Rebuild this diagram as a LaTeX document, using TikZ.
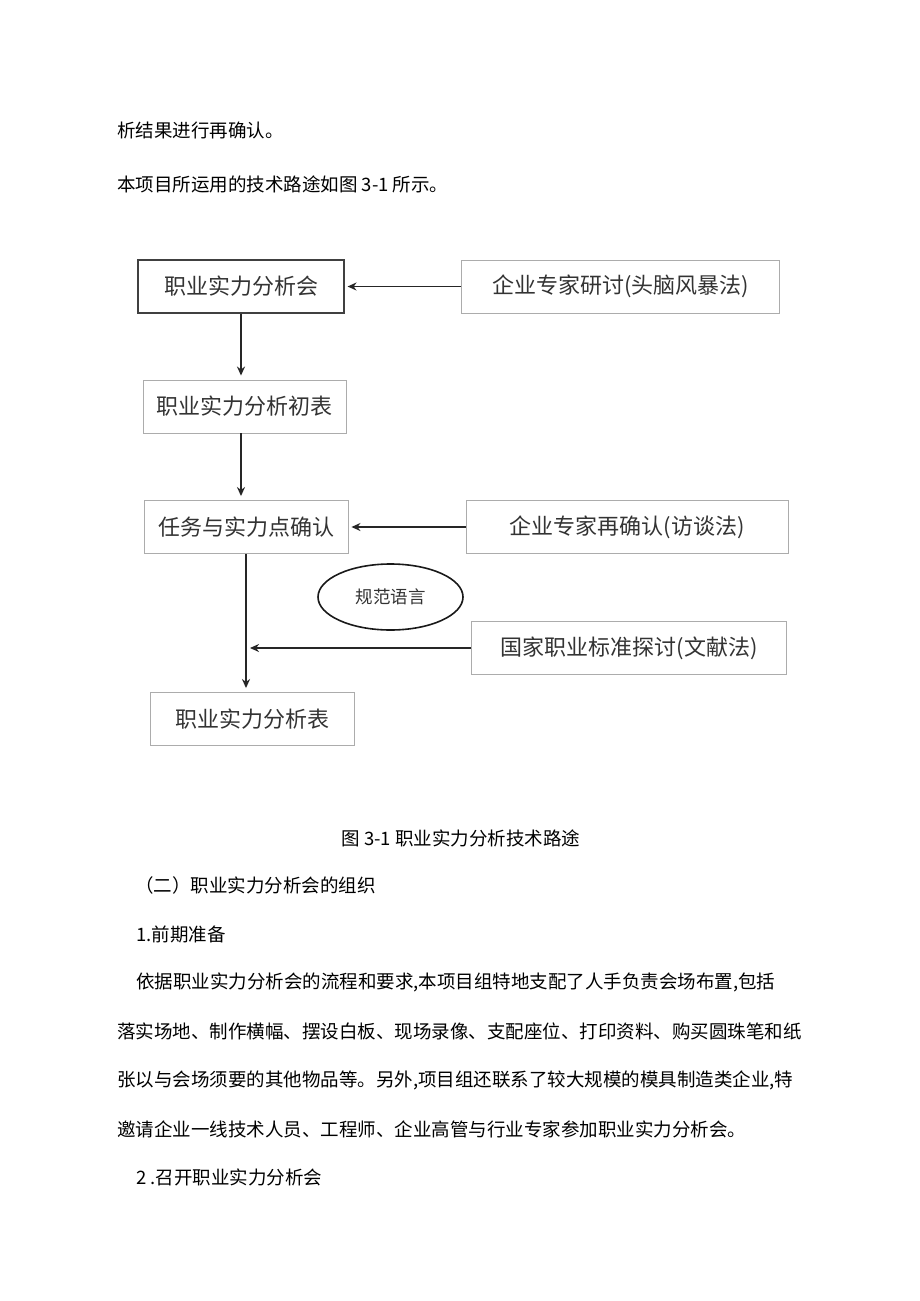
\documentclass[tikz,border=0pt]{standalone}
\usepackage{fontspec}
\newfontfamily\cjk{Noto Sans CJK SC}
\usetikzlibrary{arrows.meta,shapes.geometric}

\begin{document}
\begin{tikzpicture}[x=1pt,y=-1pt,
    box/.style={draw=gray!65,line width=0.9pt,minimum height=53pt,inner sep=0pt,
        font=\cjk\fontsize{22}{22}\selectfont,text=black!80},
    arr/.style={-{Stealth[length=9pt,width=8pt]},line width=1.6pt,black!85},
    para/.style={anchor=west,inner sep=0pt,font=\cjk\fontsize{18.5}{18.5}\selectfont}]
        \useasboundingbox[fill=white] (0,0) rectangle (920,1301);

        % text above the figure
        \node[para] (t1) at (117,130) {析结果进行再确认。};
        \node[para] (t2) at (117,184) {本项目所运用的技术路途如图 3-1 所示。};

        \node[box,draw=black!75,line width=1.1pt,minimum width=206pt] (fxh) at (241,286.5) {职业实力分析会};
        \node[box,minimum width=318pt] (yt) at (620.5,286.5) {企业专家研讨(头脑风暴法)};
        \node[box,minimum width=203pt] (cb) at (244.5,406.5) {职业实力分析初表};
        \node[box,minimum width=204pt] (qr) at (246,527) {任务与实力点确认};
        \node[box,minimum width=322pt] (zq) at (627,527) {企业专家再确认(访谈法)};
        \node[ellipse,draw=black!90,line width=1.6pt,minimum width=145pt,minimum height=66pt,
            inner sep=0pt,font=\cjk\fontsize{17.5}{17.5}\selectfont,text=black!80] (gf) at (390.5,597) {规范语言};
        \node[box,minimum width=315pt] (gb) at (629,648) {国家职业标准探讨(文献法)};
        \node[box,minimum width=204pt] (fxb) at (252,719) {职业实力分析表};
        \coordinate (mj) at (qr.south |- gb.west);

        \draw[arr,shorten >=3pt] (yt.west) -- (fxh.east);
        \draw[arr,shorten >=4pt] (fxh.south) -- (fxh.south |- cb.north);
        \draw[arr,shorten >=4pt] (fxh.south |- cb.south) -- (fxh.south |- qr.north);
        \draw[arr,shorten >=3pt] (zq.west) -- (qr.east);
        \draw[arr,shorten >=4pt] (qr.south) -- (qr.south |- fxb.north);
        \draw[arr,shorten >=4pt] (gb.west) -- (mj);

        % caption and text below
        \node[para,anchor=center] (cap) at (461,838) {图 3-1 职业实力分析技术路途};
        \node[para] (t3) at (135,885) {（二）职业实力分析会的组织};
        \node[para] (t4) at (136,934) {1.前期准备};
        \node[para] (t5) at (136,982) {依据职业实力分析会的流程和要求,本项目组特地支配了人手负责会场布置,包括};
        \node[para] (t6) at (117,1031) {落实场地、制作横幅、摆设白板、现场录像、支配座位、打印资料、购买圆珠笔和纸};
        \node[para] (t7) at (117,1080) {张以与会场须要的其他物品等。另外,项目组还联系了较大规模的模具制造类企业,特};
        \node[para] (t8) at (117,1129) {邀请企业一线技术人员、工程师、企业高管与行业专家参加职业实力分析会。};
        \node[para] (t9) at (136,1177) {2 .召开职业实力分析会};
\end{tikzpicture}
\end{document}
